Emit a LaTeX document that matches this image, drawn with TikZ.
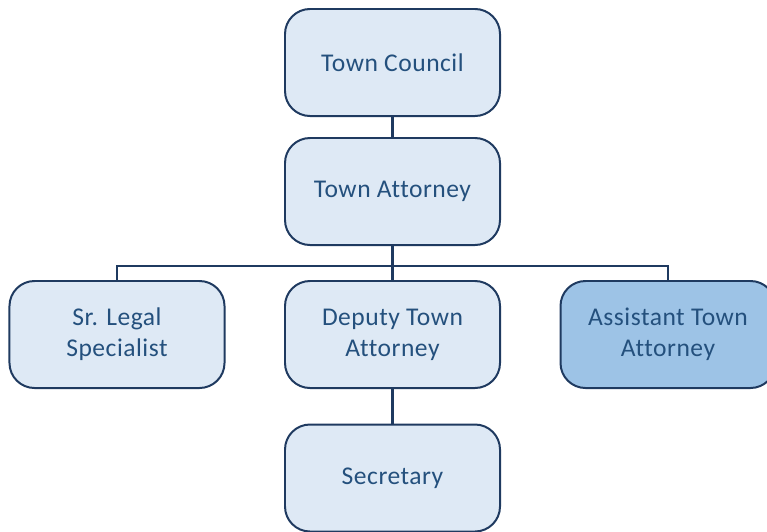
\documentclass[tikz,border=0pt]{standalone}
\usepackage{fontspec}
\setmainfont[Ligatures=NoCommon, LetterSpace=2]{Carlito}
\definecolor{boxline}{HTML}{1F3A60}
\definecolor{boxfill}{HTML}{DEE9F5}
\definecolor{boxdark}{HTML}{9DC3E6}
\definecolor{boxtext}{HTML}{24507D}
\begin{document}
\begin{tikzpicture}[x=0.03cm, y=-0.03cm,
  unit/.style={draw=boxline, fill=boxfill, line width=1.7pt, rounded corners=0.75cm,
    minimum width=6.45cm, minimum height=3.21cm, text=boxtext, align=center,
    font=\fontsize{21.8}{26.5}\selectfont},
  link/.style={draw=boxline, line width=1.8pt}]
\clip (0,0) rectangle (767,531);
% Boxes, top to bottom
\node[unit] (council) at (392.5,62.5) {Town Council};
\node[unit] (attorney) at (392.5,191.5) {Town Attorney};
\node[unit] (legal) at (117,334.5) {Sr. Legal\\Specialist};
\node[unit] (deputy) at (392.5,334.5) {Deputy Town\\Attorney};
\node[unit, fill=boxdark] (assistant) at (668,334.5) {Assistant Town\\Attorney};
\node[unit] (secretary) at (392.5,478) {Secretary};
% Connectors
\coordinate (bus) at (392.5,266);
\draw[link] (council) -- (attorney);
\draw[link] (attorney) -- (deputy);
\draw[link] (legal.north) |- (bus) -| (assistant.north);
\draw[link] (deputy) -- (secretary);
\end{tikzpicture}
\end{document}
